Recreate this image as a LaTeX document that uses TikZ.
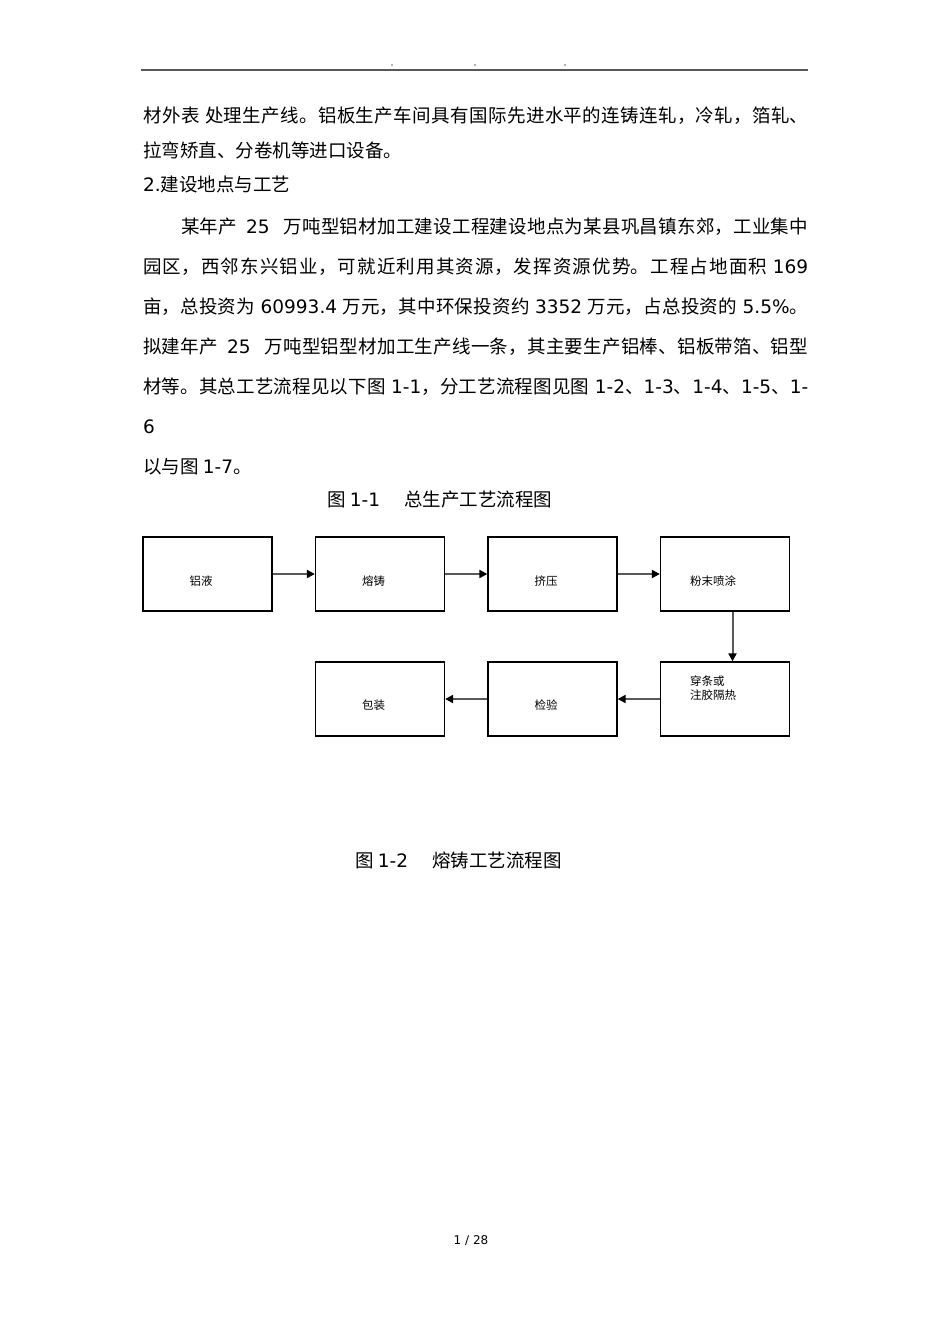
\documentclass[tikz,border=0pt]{standalone}
\usepackage{fontspec}
\newfontfamily\cjk{Noto Sans CJK SC}
\newfontfamily\dvfont{DejaVu Sans}
\usetikzlibrary{arrows.meta}
\XeTeXlinebreaklocale "zh"
\XeTeXlinebreakskip=0pt plus 2pt
\newcommand{\dv}[1]{{\dvfont #1}}
\newcommand{\jline}[2]{\parbox{#1}{\spaceskip=5.5pt\relax\parfillskip=0pt\relax\rightskip=0pt\relax\noindent #2}}

\begin{document}
\begin{tikzpicture}[x=1pt,y=-1pt,
    txt/.style={anchor=west,inner sep=0pt,font=\fontsize{18.5}{20}\cjk},
    procbox/.style={draw,line width=1.3pt,minimum width=129pt,minimum height=74pt,inner sep=0pt},
    lbl/.style={anchor=west,inner sep=0pt,align=left,font=\fontsize{11.5}{13.5}\cjk},
    flow/.style={draw=black!65,line width=2pt,-{Triangle[length=8pt,width=8pt,black]}}]
      \useasboundingbox (0,0) rectangle (950,1344);

      % page header
      \coordinate (h1) at (141,70);
      \coordinate (h2) at (808,70);
      \draw[black!65,line width=2pt] (h1) -- (h2);
      \fill[black!60] (392,65) circle (0.8);
      \fill[black!60] (475,65) circle (0.8);
      \fill[black!60] (565,65) circle (0.8);

      % body text
      \node[txt] (t1) at (143,116){\jline{665pt}{材外表 处理生产线。铝板生产车间具有国际先进水平的连铸连轧，冷轧，箔轧、}};
      \node[txt] (t2) at (143,150){拉弯矫直、分卷机等进口设备。};
      \node[txt] (t3) at (143,184){\dv{2.}建设地点与工艺};
      \node[txt] (t4) at (181,227){\jline{627pt}{某年产\hspace{9pt}\dv{25}\hspace{14pt}万吨型铝材加工建设工程建设地点为某县巩昌镇东郊，工业集中}};
      \node[txt] (t5) at (143,267){\jline{665pt}{园区，西邻东兴铝业，可就近利用其资源，发挥资源优势。工程占地面积 \dv{169}}};
      \node[txt] (t6) at (143,307){\jline{665pt}{亩，总投资为 \dv{60993.4} 万元，其中环保投资约 \dv{3352} 万元，占总投资的 \dv{5.5\%}。}};
      \node[txt] (t7) at (143,347){\jline{665pt}{拟建年产\hspace{9pt}\dv{25}\hspace{14pt}万吨型铝型材加工生产线一条，其主要生产铝棒、铝板带箔、铝型}};
      \node[txt] (t8) at (143,387){\jline{665pt}{材等。其总工艺流程见以下图 \dv{1-1}，分工艺流程图见图 \dv{1-2}、\dv{1-3}、\dv{1-4}、\dv{1-5}、\dv{1-}}};
      \node[txt] (t9) at (143,427){\dv{6}};
      \node[txt] (t10) at (143,467){以与图 \dv{1-7}。};

      % figure 1-1
      \node[txt] (cap1) at (327,500){图 \dv{1-1}\hspace{24pt}总生产工艺流程图};

      \node[procbox] (b1) at (207.5,574){};
      \node[procbox] (b2) at (380,574){};
      \node[procbox] (b3) at (552.5,574){};
      \node[procbox] (b4) at (725,574){};
      \node[procbox] (b5) at (725,699){};
      \node[procbox] (b6) at (552.5,699){};
      \node[procbox] (b7) at (380,699){};

      \node[lbl] (l1) at ([xshift=47pt,yshift=-7pt]b1.west){铝液};
      \node[lbl] (l2) at ([xshift=47pt,yshift=-7pt]b2.west){熔铸};
      \node[lbl] (l3) at ([xshift=47pt,yshift=-7pt]b3.west){挤压};
      \node[lbl] (l4) at ([xshift=30pt,yshift=-7pt]b4.west){粉末喷涂};
      \node[lbl] (l5) at ([xshift=30pt,yshift=11pt]b5.west){穿条或\\注胶隔热};
      \node[lbl] (l6) at ([xshift=47pt,yshift=-6pt]b6.west){检验};
      \node[lbl] (l7) at ([xshift=47pt,yshift=-6pt]b7.west){包装};

      \draw[flow] (b1) -- (b2);
      \draw[flow] (b2) -- (b3);
      \draw[flow] (b3) -- (b4);
      \draw[flow] ([xshift=7.5pt]b4.south) -- ([xshift=7.5pt]b5.north);
      \draw[flow] (b5) -- (b6);
      \draw[flow] (b6) -- (b7);

      % figure 1-2 caption
      \node[txt] (cap2) at (355,860){图 \dv{1-2}\hspace{24pt}熔铸工艺流程图};

      % page number
      \node[inner sep=0pt,font=\fontsize{12}{14}\dvfont] (pg) at (471,1241){1 / 28};
    \end{tikzpicture}
\end{document}
